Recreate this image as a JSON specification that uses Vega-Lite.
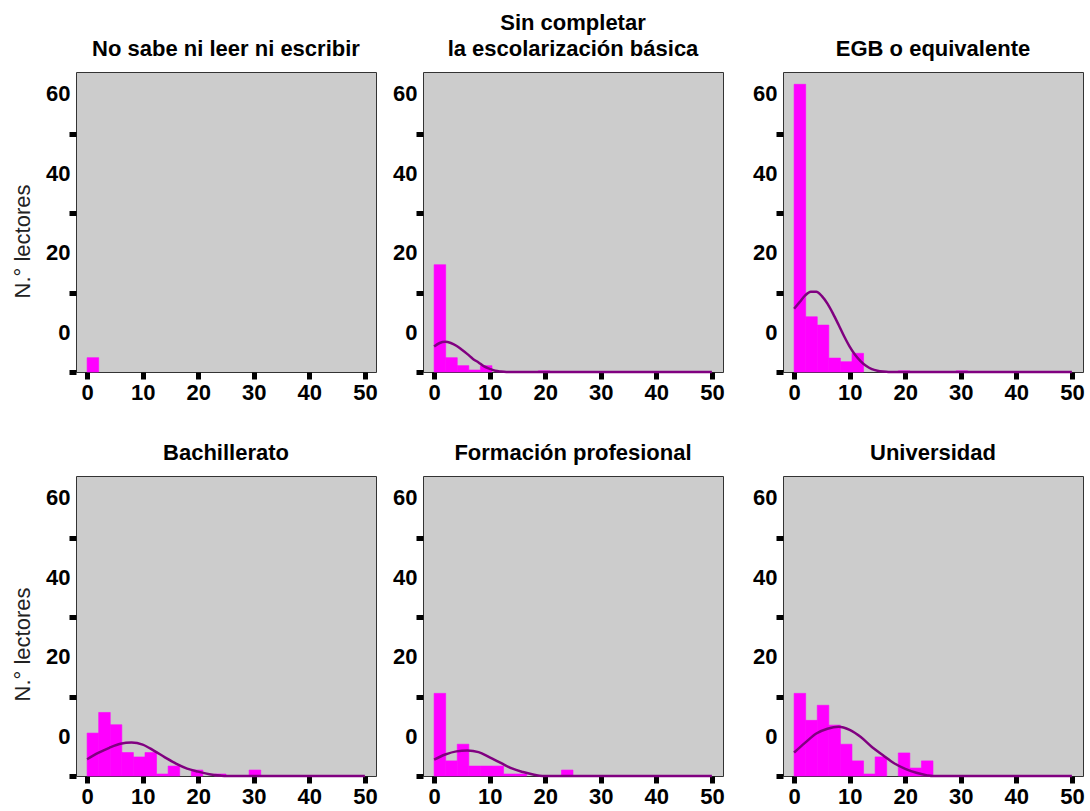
{
  "$schema": "https://vega.github.io/schema/vega-lite/v6.json",
  "background": "white",
  "padding": {"left": 10, "top": 11, "right": 0, "bottom": 0},
  "datasets": {
    "barras": [
      {"nivel": "No sabe ni leer ni escribir", "desde": 0, "hasta": 2.083, "lectores": 3.6},
      {"nivel": "Sin completar la escolarización básica", "desde": 0, "hasta": 2.083, "lectores": 27.0},
      {"nivel": "Sin completar la escolarización básica", "desde": 2.083, "hasta": 4.167, "lectores": 3.6},
      {"nivel": "Sin completar la escolarización básica", "desde": 4.167, "hasta": 6.25, "lectores": 1.6},
      {"nivel": "Sin completar la escolarización básica", "desde": 6.25, "hasta": 8.333, "lectores": 0.5},
      {"nivel": "Sin completar la escolarización básica", "desde": 8.333, "hasta": 10.417, "lectores": 1.6},
      {"nivel": "Sin completar la escolarización básica", "desde": 18.75, "hasta": 20.833, "lectores": 0.3},
      {"nivel": "EGB o equivalente", "desde": 0, "hasta": 2.083, "lectores": 72.4},
      {"nivel": "EGB o equivalente", "desde": 2.083, "hasta": 4.167, "lectores": 13.9},
      {"nivel": "EGB o equivalente", "desde": 4.167, "hasta": 6.25, "lectores": 11.8},
      {"nivel": "EGB o equivalente", "desde": 6.25, "hasta": 8.333, "lectores": 3.5},
      {"nivel": "EGB o equivalente", "desde": 8.333, "hasta": 10.417, "lectores": 2.6},
      {"nivel": "EGB o equivalente", "desde": 10.417, "hasta": 12.5, "lectores": 4.7},
      {"nivel": "EGB o equivalente", "desde": 18.75, "hasta": 20.833, "lectores": 0.3},
      {"nivel": "EGB o equivalente", "desde": 29.167, "hasta": 31.25, "lectores": 0.3},
      {"nivel": "Bachillerato", "desde": 0, "hasta": 2.083, "lectores": 10.8},
      {"nivel": "Bachillerato", "desde": 2.083, "hasta": 4.167, "lectores": 16.0},
      {"nivel": "Bachillerato", "desde": 4.167, "hasta": 6.25, "lectores": 12.9},
      {"nivel": "Bachillerato", "desde": 6.25, "hasta": 8.333, "lectores": 5.9},
      {"nivel": "Bachillerato", "desde": 8.333, "hasta": 10.417, "lectores": 4.8},
      {"nivel": "Bachillerato", "desde": 10.417, "hasta": 12.5, "lectores": 5.9},
      {"nivel": "Bachillerato", "desde": 12.5, "hasta": 14.583, "lectores": 0.5},
      {"nivel": "Bachillerato", "desde": 14.583, "hasta": 16.667, "lectores": 2.5},
      {"nivel": "Bachillerato", "desde": 18.75, "hasta": 20.833, "lectores": 1.5},
      {"nivel": "Bachillerato", "desde": 22.917, "hasta": 25, "lectores": 0.5},
      {"nivel": "Bachillerato", "desde": 29.167, "hasta": 31.25, "lectores": 1.5},
      {"nivel": "Formación profesional", "desde": 0, "hasta": 2.083, "lectores": 20.8},
      {"nivel": "Formación profesional", "desde": 2.083, "hasta": 4.167, "lectores": 3.8},
      {"nivel": "Formación profesional", "desde": 4.167, "hasta": 6.25, "lectores": 8.0},
      {"nivel": "Formación profesional", "desde": 6.25, "hasta": 8.333, "lectores": 2.5},
      {"nivel": "Formación profesional", "desde": 8.333, "hasta": 10.417, "lectores": 2.5},
      {"nivel": "Formación profesional", "desde": 10.417, "hasta": 12.5, "lectores": 2.5},
      {"nivel": "Formación profesional", "desde": 12.5, "hasta": 14.583, "lectores": 0.5},
      {"nivel": "Formación profesional", "desde": 14.583, "hasta": 16.667, "lectores": 0.5},
      {"nivel": "Formación profesional", "desde": 22.917, "hasta": 25, "lectores": 1.5},
      {"nivel": "Universidad", "desde": 0, "hasta": 2.083, "lectores": 20.8},
      {"nivel": "Universidad", "desde": 2.083, "hasta": 4.167, "lectores": 14.0},
      {"nivel": "Universidad", "desde": 4.167, "hasta": 6.25, "lectores": 17.8},
      {"nivel": "Universidad", "desde": 6.25, "hasta": 8.333, "lectores": 12.8},
      {"nivel": "Universidad", "desde": 8.333, "hasta": 10.417, "lectores": 8.0},
      {"nivel": "Universidad", "desde": 10.417, "hasta": 12.5, "lectores": 3.8},
      {"nivel": "Universidad", "desde": 12.5, "hasta": 14.583, "lectores": 0.5},
      {"nivel": "Universidad", "desde": 14.583, "hasta": 16.667, "lectores": 4.8},
      {"nivel": "Universidad", "desde": 18.75, "hasta": 20.833, "lectores": 5.8},
      {"nivel": "Universidad", "desde": 20.833, "hasta": 22.917, "lectores": 2.0},
      {"nivel": "Universidad", "desde": 22.917, "hasta": 25, "lectores": 3.8}
    ],
    "curva": [
      {"nivel": "Sin completar la escolarización básica", "x": 0, "y": 6.4},
      {"nivel": "Sin completar la escolarización básica", "x": 1, "y": 7.3},
      {"nivel": "Sin completar la escolarización básica", "x": 2, "y": 7.6},
      {"nivel": "Sin completar la escolarización básica", "x": 3, "y": 7.3},
      {"nivel": "Sin completar la escolarización básica", "x": 4, "y": 6.6},
      {"nivel": "Sin completar la escolarización básica", "x": 5, "y": 5.6},
      {"nivel": "Sin completar la escolarización básica", "x": 6, "y": 4.5},
      {"nivel": "Sin completar la escolarización básica", "x": 7, "y": 3.3},
      {"nivel": "Sin completar la escolarización básica", "x": 8, "y": 2.4},
      {"nivel": "Sin completar la escolarización básica", "x": 9, "y": 1.4},
      {"nivel": "Sin completar la escolarización básica", "x": 10, "y": 0.8},
      {"nivel": "Sin completar la escolarización básica", "x": 11, "y": 0.3},
      {"nivel": "Sin completar la escolarización básica", "x": 12, "y": 0.1},
      {"nivel": "Sin completar la escolarización básica", "x": 13, "y": 0},
      {"nivel": "Sin completar la escolarización básica", "x": 50, "y": 0},
      {"nivel": "EGB o equivalente", "x": 0, "y": 15.9},
      {"nivel": "EGB o equivalente", "x": 1, "y": 17.6},
      {"nivel": "EGB o equivalente", "x": 2, "y": 19.3},
      {"nivel": "EGB o equivalente", "x": 3, "y": 20.2},
      {"nivel": "EGB o equivalente", "x": 4, "y": 20.2},
      {"nivel": "EGB o equivalente", "x": 5, "y": 19.1},
      {"nivel": "EGB o equivalente", "x": 6, "y": 17.2},
      {"nivel": "EGB o equivalente", "x": 7, "y": 14.7},
      {"nivel": "EGB o equivalente", "x": 8, "y": 11.9},
      {"nivel": "EGB o equivalente", "x": 9, "y": 9.0},
      {"nivel": "EGB o equivalente", "x": 10, "y": 6.4},
      {"nivel": "EGB o equivalente", "x": 11, "y": 4.3},
      {"nivel": "EGB o equivalente", "x": 12, "y": 2.7},
      {"nivel": "EGB o equivalente", "x": 13, "y": 1.5},
      {"nivel": "EGB o equivalente", "x": 14, "y": 0.7},
      {"nivel": "EGB o equivalente", "x": 15, "y": 0.3},
      {"nivel": "EGB o equivalente", "x": 16, "y": 0.1},
      {"nivel": "EGB o equivalente", "x": 17, "y": 0},
      {"nivel": "EGB o equivalente", "x": 50, "y": 0},
      {"nivel": "Bachillerato", "x": 0, "y": 4.2},
      {"nivel": "Bachillerato", "x": 2, "y": 5.8},
      {"nivel": "Bachillerato", "x": 4, "y": 7.1},
      {"nivel": "Bachillerato", "x": 6, "y": 8.1},
      {"nivel": "Bachillerato", "x": 8, "y": 8.4},
      {"nivel": "Bachillerato", "x": 10, "y": 7.9},
      {"nivel": "Bachillerato", "x": 12, "y": 6.4},
      {"nivel": "Bachillerato", "x": 14, "y": 4.7},
      {"nivel": "Bachillerato", "x": 16, "y": 3.1},
      {"nivel": "Bachillerato", "x": 18, "y": 1.85},
      {"nivel": "Bachillerato", "x": 20, "y": 1.1},
      {"nivel": "Bachillerato", "x": 22, "y": 0.45},
      {"nivel": "Bachillerato", "x": 24, "y": 0.1},
      {"nivel": "Bachillerato", "x": 25, "y": 0},
      {"nivel": "Bachillerato", "x": 50, "y": 0},
      {"nivel": "Formación profesional", "x": 0, "y": 4.1},
      {"nivel": "Formación profesional", "x": 2, "y": 5.4},
      {"nivel": "Formación profesional", "x": 4, "y": 6.2},
      {"nivel": "Formación profesional", "x": 6, "y": 6.4},
      {"nivel": "Formación profesional", "x": 8, "y": 6.0},
      {"nivel": "Formación profesional", "x": 10, "y": 4.7},
      {"nivel": "Formación profesional", "x": 12, "y": 3.3},
      {"nivel": "Formación profesional", "x": 14, "y": 1.9},
      {"nivel": "Formación profesional", "x": 16, "y": 1.0},
      {"nivel": "Formación profesional", "x": 18, "y": 0.3},
      {"nivel": "Formación profesional", "x": 19, "y": 0.05},
      {"nivel": "Formación profesional", "x": 20, "y": 0},
      {"nivel": "Formación profesional", "x": 50, "y": 0},
      {"nivel": "Universidad", "x": 0, "y": 5.9},
      {"nivel": "Universidad", "x": 2, "y": 8.4},
      {"nivel": "Universidad", "x": 4, "y": 10.7},
      {"nivel": "Universidad", "x": 6, "y": 11.9},
      {"nivel": "Universidad", "x": 8, "y": 12.4},
      {"nivel": "Universidad", "x": 10, "y": 11.6},
      {"nivel": "Universidad", "x": 12, "y": 9.8},
      {"nivel": "Universidad", "x": 14, "y": 7.3},
      {"nivel": "Universidad", "x": 16, "y": 5.2},
      {"nivel": "Universidad", "x": 18, "y": 3.2},
      {"nivel": "Universidad", "x": 20, "y": 1.8},
      {"nivel": "Universidad", "x": 22, "y": 0.8},
      {"nivel": "Universidad", "x": 24, "y": 0.15},
      {"nivel": "Universidad", "x": 25, "y": 0},
      {"nivel": "Universidad", "x": 50, "y": 0}
    ]
  },
  "vconcat": [
    {
      "spacing": 27,
      "hconcat": [
        {
          "spacing": 14,
          "hconcat": [
            {
              "width": 300, "height": 300,
              "title": {"text": ["", "No sabe ni leer ni escribir"]},
              "layer": [
                {
                  "data": {"name": "barras"},
                  "transform": [{"filter": "datum.nivel === 'No sabe ni leer ni escribir'"}],
                  "mark": {"type": "bar", "color": "#ff00ff", "stroke": "#ff00ff", "strokeWidth": 0.6},
                  "encoding": {
                    "x": {"field": "desde", "type": "quantitative", "scale": {"domain": [-2, 52], "nice": false, "zero": false}, "axis": {"values": [0, 10, 20, 30, 40, 50], "title": null}},
                    "x2": {"field": "hasta"},
                    "y": {"field": "lectores", "type": "quantitative", "scale": {"domain": [0, 75.5], "nice": false}, "axis": {"values": [0, 20, 40, 60], "title": "N.° lectores", "titleX": -54, "titleY": 169, "titleAlign": "center", "titleBaseline": "middle", "titleAngle": -90}},
                    "y2": {"datum": 0}
                  }
                }
              ]
            },
            {
              "width": 300, "height": 300,
              "title": {"text": ["Sin completar", "la escolarización básica"]},
              "layer": [
                {
                  "data": {"name": "barras"},
                  "transform": [{"filter": "datum.nivel === 'Sin completar la escolarización básica'"}],
                  "mark": {"type": "bar", "color": "#ff00ff", "stroke": "#ff00ff", "strokeWidth": 0.6},
                  "encoding": {
                    "x": {"field": "desde", "type": "quantitative", "scale": {"domain": [-2, 52], "nice": false, "zero": false}, "axis": {"values": [0, 10, 20, 30, 40, 50], "title": null}},
                    "x2": {"field": "hasta"},
                    "y": {"field": "lectores", "type": "quantitative", "scale": {"domain": [0, 75.5], "nice": false}, "axis": {"values": [0, 20, 40, 60], "title": null}},
                    "y2": {"datum": 0}
                  }
                },
                {
                  "data": {"name": "curva"},
                  "transform": [{"filter": "datum.nivel === 'Sin completar la escolarización básica'"}],
                  "mark": {"type": "line", "color": "#800080", "strokeWidth": 2.5, "interpolate": "monotone"},
                  "encoding": {
                    "x": {"field": "x", "type": "quantitative"},
                    "y": {"field": "y", "type": "quantitative"}
                  }
                }
              ]
            }
          ]
        },
        {
          "width": 300, "height": 300,
          "title": {"text": ["", "EGB o equivalente"]},
          "layer": [
            {
              "data": {"name": "barras"},
              "transform": [{"filter": "datum.nivel === 'EGB o equivalente'"}],
              "mark": {"type": "bar", "color": "#ff00ff", "stroke": "#ff00ff", "strokeWidth": 0.6},
              "encoding": {
                "x": {"field": "desde", "type": "quantitative", "scale": {"domain": [-2, 52], "nice": false, "zero": false}, "axis": {"values": [0, 10, 20, 30, 40, 50], "title": null}},
                "x2": {"field": "hasta"},
                "y": {"field": "lectores", "type": "quantitative", "scale": {"domain": [0, 75.5], "nice": false}, "axis": {"values": [0, 20, 40, 60], "title": null}},
                "y2": {"datum": 0}
              }
            },
            {
              "data": {"name": "curva"},
              "transform": [{"filter": "datum.nivel === 'EGB o equivalente'"}],
              "mark": {"type": "line", "color": "#800080", "strokeWidth": 2.5, "interpolate": "monotone"},
              "encoding": {
                "x": {"field": "x", "type": "quantitative"},
                "y": {"field": "y", "type": "quantitative"}
              }
            }
          ]
        }
      ]
    },
    {
      "spacing": 27,
      "hconcat": [
        {
          "spacing": 14,
          "hconcat": [
            {
              "width": 300, "height": 300,
              "title": {"text": "Bachillerato"},
              "layer": [
                {
                  "data": {"name": "barras"},
                  "transform": [{"filter": "datum.nivel === 'Bachillerato'"}],
                  "mark": {"type": "bar", "color": "#ff00ff", "stroke": "#ff00ff", "strokeWidth": 0.6},
                  "encoding": {
                    "x": {"field": "desde", "type": "quantitative", "scale": {"domain": [-2, 52], "nice": false, "zero": false}, "axis": {"values": [0, 10, 20, 30, 40, 50], "title": null}},
                    "x2": {"field": "hasta"},
                    "y": {"field": "lectores", "type": "quantitative", "scale": {"domain": [0, 75.5], "nice": false}, "axis": {"values": [0, 20, 40, 60], "title": "N.° lectores", "titleX": -54, "titleY": 168, "titleAlign": "center", "titleBaseline": "middle", "titleAngle": -90}},
                    "y2": {"datum": 0}
                  }
                },
                {
                  "data": {"name": "curva"},
                  "transform": [{"filter": "datum.nivel === 'Bachillerato'"}],
                  "mark": {"type": "line", "color": "#800080", "strokeWidth": 2.5, "interpolate": "monotone"},
                  "encoding": {
                    "x": {"field": "x", "type": "quantitative"},
                    "y": {"field": "y", "type": "quantitative"}
                  }
                }
              ]
            },
            {
              "width": 300, "height": 300,
              "title": {"text": "Formación profesional"},
              "layer": [
                {
                  "data": {"name": "barras"},
                  "transform": [{"filter": "datum.nivel === 'Formación profesional'"}],
                  "mark": {"type": "bar", "color": "#ff00ff", "stroke": "#ff00ff", "strokeWidth": 0.6},
                  "encoding": {
                    "x": {"field": "desde", "type": "quantitative", "scale": {"domain": [-2, 52], "nice": false, "zero": false}, "axis": {"values": [0, 10, 20, 30, 40, 50], "title": null}},
                    "x2": {"field": "hasta"},
                    "y": {"field": "lectores", "type": "quantitative", "scale": {"domain": [0, 75.5], "nice": false}, "axis": {"values": [0, 20, 40, 60], "title": null}},
                    "y2": {"datum": 0}
                  }
                },
                {
                  "data": {"name": "curva"},
                  "transform": [{"filter": "datum.nivel === 'Formación profesional'"}],
                  "mark": {"type": "line", "color": "#800080", "strokeWidth": 2.5, "interpolate": "monotone"},
                  "encoding": {
                    "x": {"field": "x", "type": "quantitative"},
                    "y": {"field": "y", "type": "quantitative"}
                  }
                }
              ]
            }
          ]
        },
        {
          "width": 300, "height": 300,
          "title": {"text": "Universidad"},
          "layer": [
            {
              "data": {"name": "barras"},
              "transform": [{"filter": "datum.nivel === 'Universidad'"}],
              "mark": {"type": "bar", "color": "#ff00ff", "stroke": "#ff00ff", "strokeWidth": 0.6},
              "encoding": {
                "x": {"field": "desde", "type": "quantitative", "scale": {"domain": [-2, 52], "nice": false, "zero": false}, "axis": {"values": [0, 10, 20, 30, 40, 50], "title": null}},
                "x2": {"field": "hasta"},
                "y": {"field": "lectores", "type": "quantitative", "scale": {"domain": [0, 75.5], "nice": false}, "axis": {"values": [0, 20, 40, 60], "title": null}},
                "y2": {"datum": 0}
              }
            },
            {
              "data": {"name": "curva"},
              "transform": [{"filter": "datum.nivel === 'Universidad'"}],
              "mark": {"type": "line", "color": "#800080", "strokeWidth": 2.5, "interpolate": "monotone"},
              "encoding": {
                "x": {"field": "x", "type": "quantitative"},
                "y": {"field": "y", "type": "quantitative"}
              }
            }
          ]
        }
      ]
    }
  ],
  "spacing": 37,
  "config": {
    "font": "Liberation Sans",
    "view": {"fill": "#cccccc", "stroke": "#333333", "strokeWidth": 1},
    "axis": {
      "labelFont": "Liberation Sans", "labelFontSize": 22, "labelFontWeight": "bold", "labelColor": "#000000",
      "tickColor": "#000000", "tickSize": 7, "tickWidth": 5, "domain": false, "grid": false,
      "labelOverlap": false, "labelFlush": false,
      "titleFont": "Liberation Sans", "titleFontSize": 22, "titleFontWeight": "normal", "titleColor": "#222222"
    },
    "axisX": {"labelPadding": 3},
    "axisY": {"labelPadding": -1, "labelOffset": -40},
    "title": {"font": "Liberation Sans", "fontSize": 22, "fontWeight": "bold", "color": "#000000", "anchor": "middle", "frame": "group", "baseline": "bottom", "offset": 11, "lineHeight": 26}
  }
}
